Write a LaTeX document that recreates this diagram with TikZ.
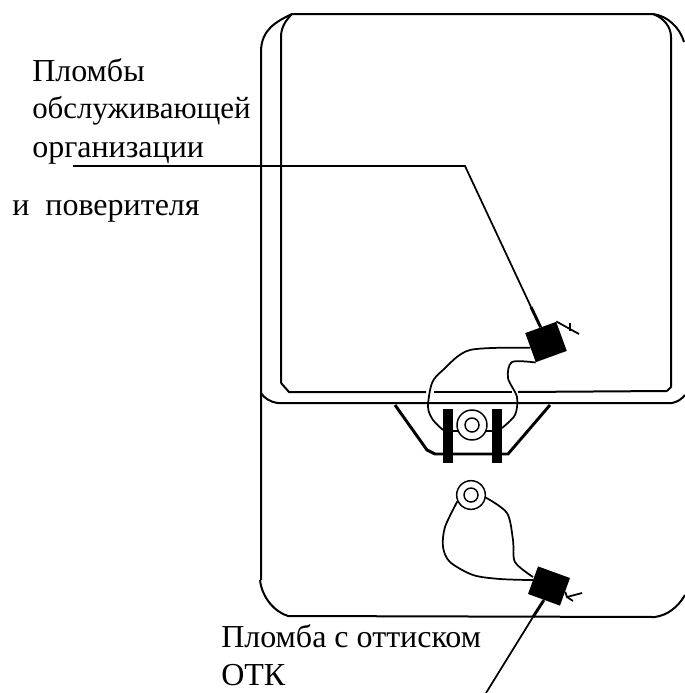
\documentclass[tikz,border=0pt]{standalone}
\usepackage{fontspec}
\setmainfont{Liberation Serif}
\tikzset{
  labeltext/.style={inner sep=0pt, anchor=base west, font=\fontsize{24}{28}\selectfont},
  thinwire/.style={line width=1.3pt},
  caseline/.style={line width=1.5pt},
  heavyline/.style={line width=2.2pt},
  washer/.style={draw, circle, line width=1.1pt, inner sep=0pt},
  sealbox/.style={fill=black, inner sep=0pt}
}
\begin{document}
\begin{tikzpicture}[x=0.75pt,y=-0.75pt]
    \useasboundingbox (0,0) rectangle (685,693);
    % outer case
    \draw[caseline] (261,580) -- (261,50) .. controls (262,30) and (275,22) .. (292,14) -- (653,14);
    \draw[caseline] (653,14) .. controls (668,16) and (680,28) .. (684,42);
    \draw[caseline] (260,580) .. controls (262,598) and (275,612) .. (288,616) -- (655,617);
    \draw[caseline] (655,617) .. controls (668,615) and (678,607) .. (685,595);
    % inner lid
    \draw[caseline] (281,383) -- (281,35) .. controls (282,26) and (286,20) .. (292,14);
    \draw[caseline] (653,14) .. controls (664,18) and (671,27) .. (671,37) -- (671,387) -- (667,391);
    \draw[caseline] (281,383) -- (289,392) -- (426,392);
    \draw[caseline] (434,392) -- (512,392);
    \draw[caseline] (518,392) -- (667,391);
    \draw[caseline] (261,393) .. controls (264,398) and (270,402) .. (278,403) -- (672,403);
    \draw[caseline] (672,403) .. controls (677,402) and (682,399) .. (685,395);
    % clamp
    \draw[heavyline] (395,405) -- (427,450) -- (435,454) -- (508,454) -- (550,405);
    \fill (443,409) rectangle (453,463);
    \fill (492,409) rectangle (502,463);
    \draw[thinwire] (453,431) -- (492,431);
    \node[washer, fill=white, minimum size=22.5pt] (screwa) at (472,425) {};
    \node[washer, minimum size=10.5pt] at (472,425) {};
    \node[washer, minimum size=21.5pt] (screwb) at (471,495) {};
    \node[washer, minimum size=10.5pt] at (471,495) {};
    % seals
    \node[sealbox, minimum width=24.7pt, minimum height=23.2pt, rotate=20] (seala) at (546,342) {};
    \node[sealbox, minimum width=25.5pt, minimum height=22pt, rotate=-20] (sealb) at (549,586) {};
    \draw[thinwire] plot[smooth] coordinates {(seala.west) (470,350) (443,370) (432,383) (428,407) (433,420) (443,430)};
    \draw[thinwire] plot[smooth] coordinates {(seala.south west) (512,362) (508,378) (517,397) (515,415) (502,428)};
    \draw[thinwire] plot[smooth] coordinates {(screwb.205) (445,527) (443,547) (450,562) (473,575) (500,579) (sealb.west)};
    \draw[thinwire] plot[smooth] coordinates {(screwb.-10) (507,513) (513,540) (515,562) (533,577)};
    % wire ends
    \coordinate (tailaend) at (579,334);
    \coordinate (tailbend) at (582,593);
    \draw[thinwire] (seala.north east) -- (tailaend);
    \draw[thinwire] (570,323) -- (570,331);
    \draw[thinwire] (sealb.east) -- (567,597) -- (tailbend);
    \draw[thinwire] (567,597) -- (573,601);
    % leader lines
    \coordinate (leadstart) at (73,166);
    \coordinate (leadknee) at (465,166);
    \coordinate (leadthick) at (531,307);
    \draw[thinwire] (leadstart) -- (leadknee) -- (leadthick);
    \draw[heavyline] (leadthick) -- (seala.north);
    \coordinate (leadend) at (486,693);
    \coordinate (leadcross) at (533,617);
    \draw[thinwire] (leadend) -- (leadcross);
    \draw[heavyline] (leadcross) -- (sealb.south);
    % labels
    \node[labeltext] (sealtop) at (32,81) {Пломбы};
    \node[labeltext, font=\fontsize{23.2}{28}\selectfont] (sealmid) at (32,118) {обслуживающей};
    \node[labeltext] (sealorg) at (32,157) {организации};
    \node[labeltext] (sealver) at (12,215) {и\ \ поверителя};
    \node[labeltext] (sealotk) at (221,647) {Пломба с оттиском};
    \node[labeltext] (otk) at (221,685) {ОТК};
\end{tikzpicture}
\end{document}
